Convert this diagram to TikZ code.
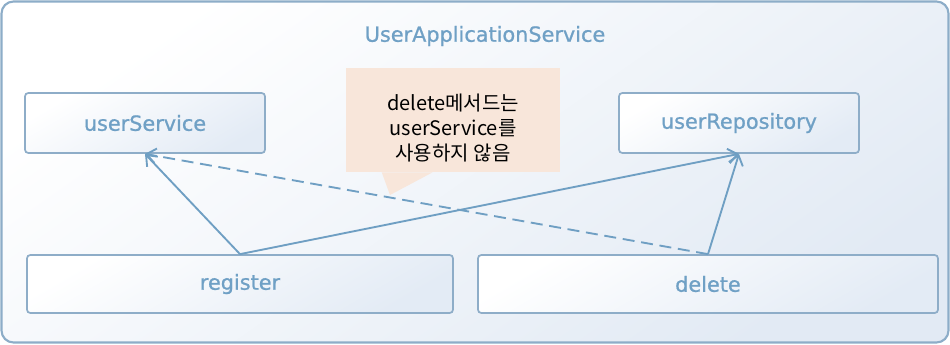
\documentclass[tikz,border=0pt]{standalone}
\usepackage{fontspec}
\setmainfont{Noto Sans CJK KR}
\newfontfamily\labelfont{DejaVu Sans}[BoldFont={DejaVu Sans}, BoldFeatures={FakeBold=0.9}]
\usetikzlibrary{arrows.meta,calc}
\definecolor{frameline}{HTML}{8DADC8}
\definecolor{boxline}{HTML}{8EADC8}
\definecolor{labelblue}{HTML}{6FA0C5}
\definecolor{arrowblue}{HTML}{6F9FC3}
\definecolor{paleblue}{HTML}{E2EAF4}
\definecolor{boxblue}{HTML}{E3EBF5}
\definecolor{notefill}{HTML}{F8E6DA}
\tikzset{
  labeltext/.style={text=labelblue, font=\labelfont\bfseries\fontsize{15.6}{18}\selectfont},
  classbox/.style={labeltext, draw=boxline, line width=1.3pt, rounded corners=2.5pt,
    top color=white, bottom color=boxblue, shading angle=30, inner sep=0pt},
  uses/.style={draw=arrowblue, line width=1.4pt,
    -{Straight Barb[length=7pt,width=11pt,line width=1.4pt]}},
  notetext/.style={font=\fontsize{15}{18.75}\selectfont, align=center, text=black}
}
\begin{document}
\begin{tikzpicture}[x=0.75pt,y=-0.75pt]
  \useasboundingbox (0,0) rectangle (950,344);
  % outer service frame
  \draw[draw=frameline, line width=1.6pt, rounded corners=9pt,
        top color=white, bottom color=paleblue, shading angle=35]
    (1.5,1.5) rectangle (948.5,342.5);
  \node[labeltext] (title) at (485,36) {UserApplicationService};

  % collaborators and methods
  \node[classbox, minimum width=180pt, minimum height=45pt] (svc) at (145,123) {userService};
  \node[classbox, minimum width=180pt, minimum height=45pt] (repo) at (739,123) {userRepository};
  \node[classbox, minimum width=319.5pt, minimum height=43.5pt] (reg) at (240,284) {register};
  \node[classbox, minimum width=345pt, minimum height=43.5pt] (del) at (708,284) {delete};

  % dependencies
  \draw[uses] (reg.north) -- (svc.south);
  \draw[uses] (reg.north) -- (repo.south);
  \draw[uses] (del.north) -- (repo.south);
  \draw[uses, dashed, dash pattern=on 9pt off 5pt] (del.north) -- (svc.south);

  % speech bubble note
  \node[fill=notefill, minimum width=160.5pt, minimum height=78pt, inner sep=0pt] (note) at (453,120) {};
  \coordinate (tip) at (390,195);
  \fill[notefill] ($(note.south west)+(36,0)$) -- (tip) -- ($(note.south west)+(87,0)$) -- cycle;
  \node[notetext] (notetxt) at (453,128) {delete메서드는\\userService를\\사용하지 않음};
\end{tikzpicture}
\end{document}
